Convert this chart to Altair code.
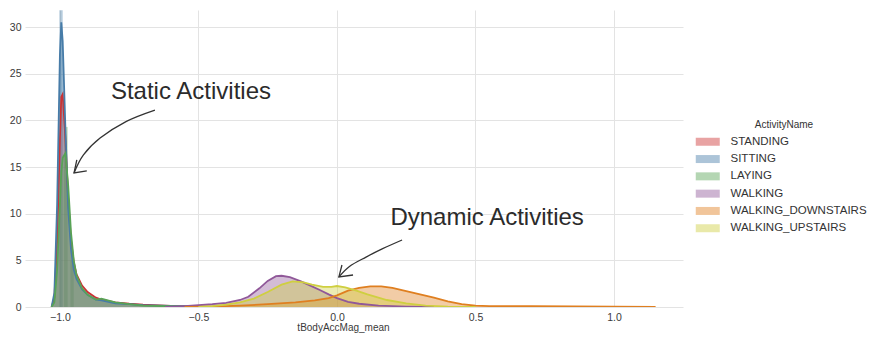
import altair as alt
import pandas as pd

# ---------------- data ----------------
activities = ["STANDING", "SITTING", "LAYING", "WALKING",
              "WALKING_DOWNSTAIRS", "WALKING_UPSTAIRS"]
line_colors = ["#cb3334", "#477ca8", "#58a356", "#905899", "#df7f20", "#cfcf40"]

static_x = [-1.03, -1.02, -1.01, -1.0, -0.995, -0.99, -0.98, -0.97, -0.96, -0.95,
            -0.94, -0.92, -0.9, -0.87, -0.85, -0.8, -0.75, -0.7, -0.6, -0.5, -0.45]
standing_y = [0, 1.0, 7, 18, 22.5, 22.8, 18, 11.5, 7.2, 4.8,
              3.5, 2.3, 1.6, 1.0, 0.8, 0.5, 0.35, 0.25, 0.12, 0.05, 0]
sitting_y = [0, 1.5, 11, 27, 30.5, 28.5, 19, 10.5, 6.2, 4.0,
             3.0, 1.9, 1.3, 0.8, 0.7, 0.4, 0.3, 0.2, 0.12, 0.05, 0]
laying_y = [0, 0.5, 4, 11, 14.5, 16, 16.5, 13, 8, 5,
            3.4, 2.0, 1.3, 0.8, 0.9, 0.5, 0.3, 0.15, 0.08, 0.02, 0]

walking_x = [-0.62, -0.55, -0.5, -0.45, -0.4, -0.35, -0.32, -0.28, -0.25, -0.22, -0.2,
             -0.17, -0.13, -0.1, -0.06, -0.03, 0.0, 0.04, 0.08, 0.15, 0.25, 0.35]
walking_y = [0, 0.1, 0.2, 0.3, 0.45, 0.75, 1.1, 2.0, 2.8, 3.3, 3.35,
             3.2, 2.75, 2.35, 1.8, 1.35, 0.95, 0.55, 0.35, 0.15, 0.05, 0]

down_x = [-0.55, -0.45, -0.35, -0.25, -0.15, -0.08, -0.03, 0.0, 0.04, 0.08, 0.12, 0.16,
          0.2, 0.25, 0.3, 0.35, 0.4, 0.45, 0.5, 0.55, 0.7, 0.85, 1.0, 1.15]
down_y = [0, 0.05, 0.15, 0.3, 0.5, 0.7, 0.95, 1.25, 1.75, 2.05, 2.2, 2.2,
          2.05, 1.7, 1.35, 1.0, 0.6, 0.3, 0.15, 0.1, 0.08, 0.06, 0.05, 0.02]

up_x = [-0.5, -0.45, -0.4, -0.35, -0.3, -0.25, -0.2, -0.16, -0.12, -0.09, -0.05,
        -0.02, 0.0, 0.03, 0.07, 0.11, 0.18, 0.25, 0.32, 0.4, 0.5]
up_y = [0, 0.1, 0.25, 0.5, 0.9, 1.6, 2.4, 2.75, 2.65, 2.4, 2.15,
        2.15, 2.25, 2.1, 1.75, 1.35, 0.75, 0.38, 0.15, 0.05, 0]

# tallest histogram bins near the static peak
bin_activity = ["SITTING", "LAYING", "LAYING"]
bin_x0 = [-1.002, -0.985, -0.962]
bin_x1 = [-0.990, -0.972, -0.950]
bin_h = [31.8, 19.3, 5.0]

# annotations
note_text = ["Static Activities", "Dynamic Activities"]
note_x = [-0.527, 0.542]
note_y = [23.0, 9.55]

curve_seg = ["s"] * 5 + ["d"] * 5
curve_x = [-0.657, -0.76, -0.855, -0.915, -0.949,
           0.235, 0.165, 0.105, 0.045, 0.007]
curve_y = [21.11, 19.9, 18.1, 16.3, 14.36,
           7.18, 6.25, 5.35, 4.35, 3.22]

head_seg = ["s"] * 3 + ["d"] * 3
head_x = [-0.939, -0.949, -0.903, 0.018, 0.007, 0.058]
head_y = [15.76, 14.36, 14.58, 4.50, 3.22, 3.43]

x_domain = [-1.126, 1.249]
y_domain = [0, 31.83]
x_ticks = [-1.0, -0.5, 0.0, 0.5, 1.0]
y_ticks = [0, 5, 10, 15, 20, 25, 30]

# ---------------- tables ----------------
series = [
    ("STANDING", static_x, standing_y),
    ("SITTING", static_x, sitting_y),
    ("LAYING", static_x, laying_y),
    ("WALKING", walking_x, walking_y),
    ("WALKING_DOWNSTAIRS", down_x, down_y),
    ("WALKING_UPSTAIRS", up_x, up_y),
]
rows = []
for name, xs_, ys_ in series:
    for xv, yv in zip(xs_, ys_):
        rows.append({"ActivityName": name, "x": xv, "y": yv,
                     "rank": activities.index(name)})
dens = pd.DataFrame(rows)

bins = pd.DataFrame({"ActivityName": bin_activity, "x0": bin_x0, "x1": bin_x1,
                     "h": bin_h, "base": [0] * len(bin_h)})
notes = pd.DataFrame({"t": note_text, "x": note_x, "y": note_y})
curves = pd.DataFrame({"seg": curve_seg, "x": curve_x, "y": curve_y,
                       "k": list(range(len(curve_x)))})
heads = pd.DataFrame({"seg": head_seg, "x": head_x, "y": head_y,
                      "k": list(range(len(head_x)))})

FONT = "Liberation Sans"

xs = alt.Scale(domain=x_domain, nice=False, zero=False)
ys = alt.Scale(domain=y_domain, nice=False)
cs = alt.Scale(domain=activities, range=line_colors)

x_axis = alt.Axis(values=x_ticks, format=".1f", title="tBodyAccMag_mean",
                  titleX=318, titleY=15, titleBaseline="top",
                  titleFontSize=10, titleFontWeight="normal", labelPadding=5)
y_axis = alt.Axis(values=y_ticks, title=None, labelPadding=4)

legend = alt.Legend(
    title="ActivityName", orient="none", legendX=677, legendY=110,
    symbolType="M-3,-1L3,-1L3,1L-3,1Z", symbolSize=64,
    symbolOpacity=0.45, symbolStrokeWidth=0,
    labelFontSize=11.5, labelFont=FONT, labelColor="#333333",
    labelOffset=17, rowPadding=4.3, padding=0,
    titleFontSize=10, titleFont=FONT, titleFontWeight="normal",
    titleColor="#333333", titleAnchor="middle", titlePadding=6,
)

color_enc = alt.Color("ActivityName:N", scale=cs, legend=legend)

area = alt.Chart(dens).mark_area(opacity=0.4, clip=True).encode(
    x=alt.X("x:Q", scale=xs, axis=x_axis),
    y=alt.Y("y:Q", scale=ys, axis=y_axis, stack=None),
    color=color_enc,
    order=alt.Order("rank:Q"),
)

bars = alt.Chart(bins).mark_rect(opacity=0.4, clip=True).encode(
    x=alt.X("x0:Q", scale=xs),
    x2="x1:Q",
    y=alt.Y("h:Q", scale=ys),
    y2="base:Q",
    color=color_enc,
)

lines = alt.Chart(dens).mark_line(strokeWidth=1.8, clip=True).encode(
    x=alt.X("x:Q", scale=xs),
    y=alt.Y("y:Q", scale=ys),
    color=color_enc,
    order=alt.Order("x:Q"),
)

arrow_curves = alt.Chart(curves).mark_line(color="#333333", strokeWidth=1.3,
                                           interpolate="cardinal").encode(
    x=alt.X("x:Q", scale=xs),
    y=alt.Y("y:Q", scale=ys),
    detail="seg:N",
    order="k:Q",
)

arrow_heads = alt.Chart(heads).mark_line(color="#333333", strokeWidth=1.3).encode(
    x=alt.X("x:Q", scale=xs),
    y=alt.Y("y:Q", scale=ys),
    detail="seg:N",
    order="k:Q",
)

texts = alt.Chart(notes).mark_text(font=FONT, fontSize=24, color="#2b2b2b",
                                   align="center", baseline="middle").encode(
    x=alt.X("x:Q", scale=xs),
    y=alt.Y("y:Q", scale=ys),
    text="t:N",
)

chart = alt.layer(bars, area, lines, arrow_curves, arrow_heads, texts).properties(
    width=658, height=297,
    autosize=alt.AutoSizeParams(type="none"),
    padding={"left": 17, "top": 2, "right": 186, "bottom": 26},
    background="white",
).configure_view(stroke=None).configure_axis(
    grid=True, gridColor="#e3e3e3", gridWidth=1,
    domain=False, ticks=False,
    labelFont=FONT, labelFontSize=10.5, labelColor="#3a3a3a",
    titleFont=FONT, titleColor="#3a3a3a",
)

chart.save("out.html", embed_options={"renderer": "svg", "actions": False})
